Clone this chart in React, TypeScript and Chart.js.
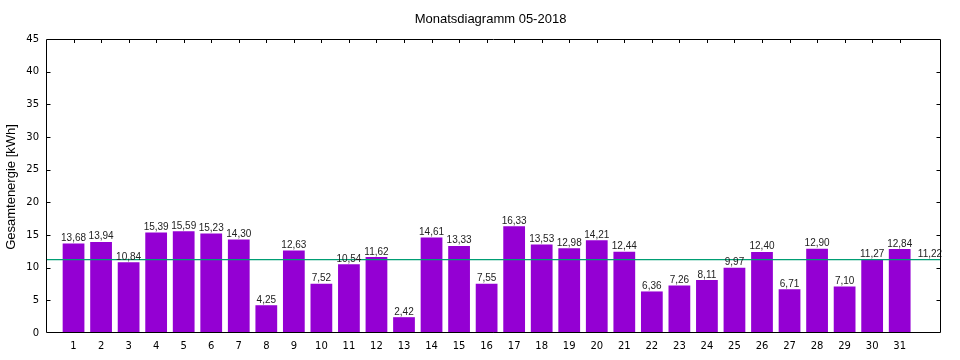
import React, { useEffect, useRef } from "react";
import { Chart, registerables } from "chart.js";

Chart.register(...registerables);

const TITLE = "Monatsdiagramm 05-2018";
const Y_TITLE = "Gesamtenergie [kWh]";
const DAYS = [1, 2, 3, 4, 5, 6, 7, 8, 9, 10, 11, 12, 13, 14, 15, 16, 17, 18, 19, 20, 21, 22, 23, 24, 25, 26, 27, 28, 29, 30, 31];
const ENERGY = [13.68, 13.94, 10.84, 15.39, 15.59, 15.23, 14.3, 4.25, 12.63, 7.52, 10.54, 11.62, 2.42, 14.61, 13.33, 7.55, 16.33, 13.53, 12.98, 14.21, 12.44, 6.36, 7.26, 8.11, 9.97, 12.4, 6.71, 12.9, 7.1, 11.27, 12.84];
const MEAN = 11.22;
const MEAN_LABEL_POS = 32.1;
const X_MIN = 0;
const X_MAX = 32.5;
const Y_MIN = 0;
const Y_MAX = 45;
const Y_STEP = 5;

const BAR_COLOR = "#9400d3";
const MEAN_COLOR = "#009e73";

const fmt = (v: number) => v.toFixed(2).replace(".", ",");

const framePlugin = {
  id: "frame",
  afterDatasetsDraw(chart: any) {
    const { ctx, chartArea, scales } = chart;
    const x = scales.x;
    const y = scales.y;
    const L = Math.round(chartArea.left) + 0.5;
    const R = Math.round(chartArea.right) - 0.5;
    const T = Math.round(chartArea.top) + 0.5;
    const B = Math.round(chartArea.bottom) - 0.5;
    ctx.save();
    // value labels
    ctx.font = '10px "Liberation Sans", Arial, sans-serif';
    ctx.fillStyle = "#222";
    ctx.textAlign = "center";
    ctx.textBaseline = "alphabetic";
    DAYS.forEach((d, i) => {
      const px = x.getPixelForValue(d);
      const py = y.getPixelForValue(ENERGY[i]);
      ctx.fillText(fmt(ENERGY[i]), px, py - 2.5);
    });
    ctx.fillText(fmt(MEAN), x.getPixelForValue(MEAN_LABEL_POS), y.getPixelForValue(MEAN) - 3);

    // frame
    ctx.strokeStyle = "#000";
    ctx.lineWidth = 1;
    ctx.beginPath();
    ctx.rect(L, T, R - L, B - T);
    ctx.stroke();
    ctx.beginPath();
    DAYS.forEach((d) => {
      const px = Math.round(x.getPixelForValue(d)) + 0.5;
      ctx.moveTo(px, T);
      ctx.lineTo(px, T + 3.5);
    });
    for (let v = Y_MIN + Y_STEP; v < Y_MAX; v += Y_STEP) {
      const py = Math.round(y.getPixelForValue(v)) + 0.5;
      ctx.moveTo(L, py);
      ctx.lineTo(L + 4, py);
      ctx.moveTo(R, py);
      ctx.lineTo(R - 4, py);
    }
    ctx.stroke();

    // title
    ctx.fillStyle = "#000";
    ctx.font = '13px "Liberation Sans", Arial, sans-serif';
    ctx.textAlign = "center";
    ctx.textBaseline = "alphabetic";
    ctx.fillText(TITLE, (chartArea.left + chartArea.right) / 2 - 3, 23);

    // y title
    ctx.save();
    ctx.translate(15, (chartArea.top + chartArea.bottom) / 2 + 1);
    ctx.rotate(-Math.PI / 2);
    ctx.textAlign = "center";
    ctx.textBaseline = "alphabetic";
    ctx.fillText(Y_TITLE, 0, 0);
    ctx.restore();

    ctx.restore();
  },
};

export default function App() {
  const ref = useRef<HTMLCanvasElement | null>(null);

  useEffect(() => {
    if (!ref.current) return;
    const chart = new Chart(ref.current, {
      type: "bar",
      data: {
        datasets: [
          {
            type: "line",
            label: "Mittelwert",
            data: [
              { x: X_MIN, y: MEAN },
              { x: X_MAX, y: MEAN },
            ],
            borderColor: MEAN_COLOR,
            borderWidth: 1.2,
            pointRadius: 0,
            fill: false,
            order: 0,
          } as any,
          {
            type: "bar",
            label: "Energie",
            data: DAYS.map((d, i) => ({ x: d, y: ENERGY[i] })),
            backgroundColor: BAR_COLOR,
            borderWidth: 0,
            barPercentage: 0.79,
            categoryPercentage: 1,
            order: 1,
          },
        ],
      },
      options: {
        responsive: false,
        animation: false,
        layout: { padding: { left: 0, right: 19, top: 39, bottom: 0 } },
        plugins: {
          legend: { display: false },
          title: { display: false },
          tooltip: { enabled: false },
        },
        scales: {
          x: {
            type: "linear",
            offset: false,
            min: X_MIN,
            max: X_MAX,
            grid: { display: false, drawTicks: false, offset: false },
            border: { display: false },
            ticks: {
              stepSize: 1,
              autoSkip: false,
              maxRotation: 0,
              padding: 7,
              color: "#000",
              font: { family: '"DejaVu Sans", sans-serif', size: 10 },
              callback: (v: any) => (v >= 1 && v <= 31 ? String(v) : ""),
            },
            afterFit: (s: any) => {
              s.height = 27;
            },
          },
          y: {
            min: Y_MIN,
            max: Y_MAX,
            grid: { display: false, drawTicks: false },
            border: { display: false },
            ticks: {
              stepSize: Y_STEP,
              padding: 7,
              color: "#000",
              font: { family: '"DejaVu Sans", sans-serif', size: 10 },
            },
            afterFit: (s: any) => {
              s.width = 46;
            },
          },
        },
      },
      plugins: [framePlugin],
    });
    return () => chart.destroy();
  }, []);

  return (
    <div style={{ position: "absolute", left: 0, top: 0, width: 960, height: 360, background: "#fff" }}>
      <canvas ref={ref} width={960} height={360} />
    </div>
  );
}
